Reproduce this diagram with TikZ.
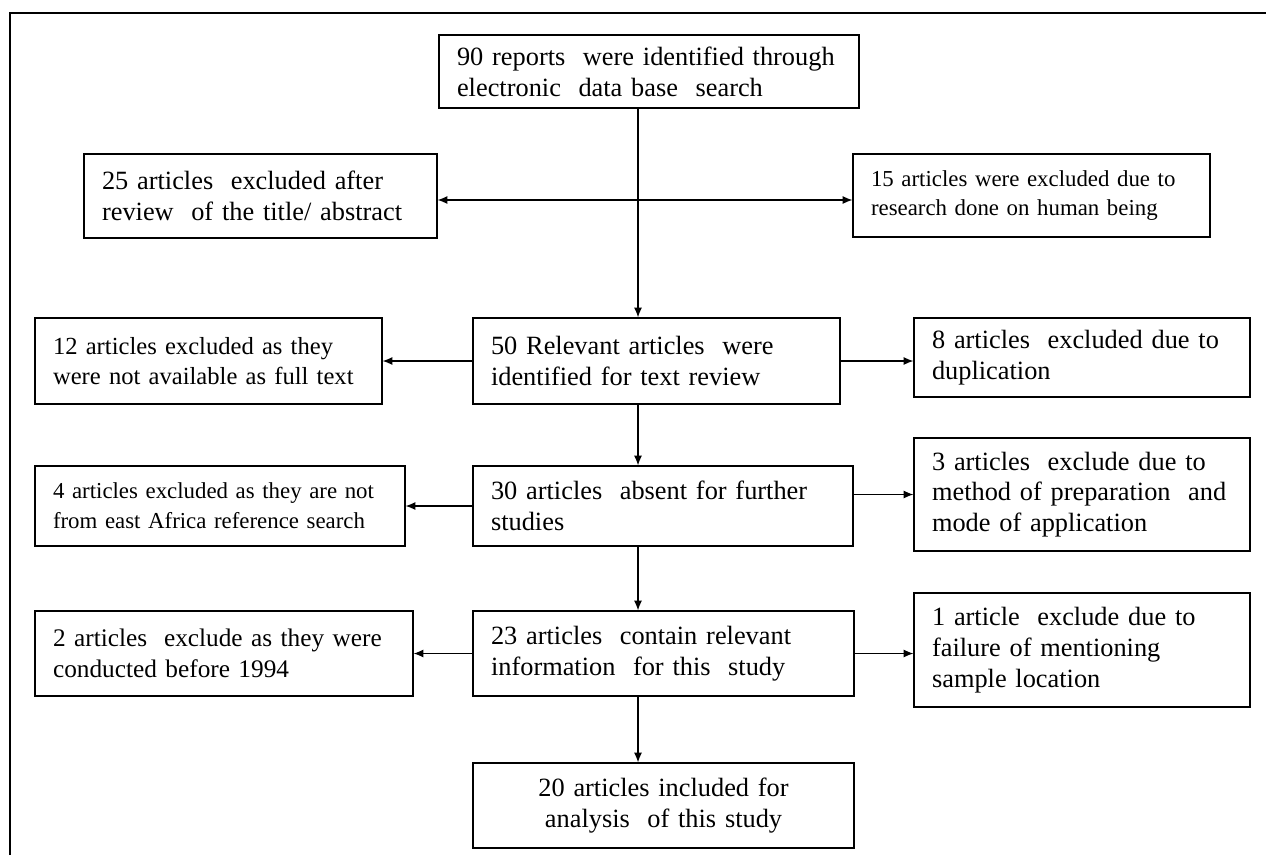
\documentclass[tikz,border=0pt]{standalone}
\usepackage{fontspec}
\setmainfont{Liberation Serif}
\usetikzlibrary{arrows.meta}

\tikzset{
    box/.style={draw, line width=0.8pt, align=left, inner xsep=0.36cm, inner ysep=0pt},
    arr/.style={line width=0.6pt, -{Latex[length=5.5pt,width=4.5pt]}},
    big/.style={font=\fontsize{15}{17.5}\selectfont},
    small/.style={font=\fontsize{13}{17}\selectfont}
}

\begin{document}
\begin{tikzpicture}[x=0.02cm, y=-0.02cm]
    \useasboundingbox (0,0) rectangle (1266,855);
    \draw [line width=1.4pt] (10,855) -- (10,13) -- (1266,13);

    \node[box, big, text width=7.68cm, minimum height=1.46cm] (top) at (649,71.5) {90 reports\ \ were identified through\\electronic\ \ data base\ \ search};
    \node[box, big, text width=6.34cm, minimum height=1.68cm] (ex1) at (260.5,196) {25 articles\ \ excluded after\\review\ \ of the title/ abstract};
    \node[box, small, text width=6.42cm, minimum height=1.66cm] (ex2) at (1031.5,195.5) {15 articles were excluded due to\\research done on human being};
    \node[box, big, text width=6.62cm, minimum height=1.72cm] (rel) at (656.5,361) {50 Relevant articles\ \ were\\identified for text review};
    \node[box, font=\fontsize{14}{17.5}\selectfont, text width=6.22cm, minimum height=1.72cm] (ex3) at (208.5,361) {12 articles excluded as they\\were not available as full text};
    \node[box, big, text width=6.0cm, minimum height=1.58cm] (ex4) at (1082,357.5) {8 articles\ \ excluded due to\\duplication};
    \node[box, big, text width=6.88cm, minimum height=1.6cm] (absent) at (663,506) {30 articles\ \ absent for further\\studies};
    \node[box, small, text width=6.68cm, minimum height=1.6cm] (ex5) at (220,506) {4 articles excluded as they are not\\from east Africa reference search};
    \node[box, big, text width=6.0cm, minimum height=2.26cm] (ex6) at (1082,494.5) {3 articles\ \ exclude due to\\method of preparation\ \ and\\mode of application};
    \node[box, big, text width=6.9cm, minimum height=1.7cm] (info) at (663.5,653.5) {23 articles\ \ contain relevant\\information\ \ for this\ \ study};
    \node[box, font=\fontsize{14.4}{17.5}\selectfont, text width=6.84cm, minimum height=1.7cm] (ex7) at (224,653.5) {2 articles\ \ exclude as they were\\conducted before 1994};
    \node[box, big, text width=6.0cm, minimum height=2.28cm] (ex8) at (1082,650) {1 article\ \ exclude due to\\failure of mentioning\\sample location};
    \node[box, big, align=center, text width=6.9cm, minimum height=1.7cm] (incl) at (663.5,805.5) {20 articles included for\\analysis\ \ of this study};

    \coordinate (spine) at (638,0);
    \coordinate (cross) at (638,200);

    \draw [arr] (top.south -| spine) -- (rel.north -| spine);
    \draw [arr] (cross) -- (cross -| ex1.east);
    \draw [arr] (cross) -- (cross -| ex2.west);
    \draw [arr] (rel.west) -- (ex3.east);
    \draw [arr] (rel.east) -- (rel.east -| ex4.west);
    \draw [arr] (rel.south -| spine) -- (absent.north -| spine);
    \draw [arr] (absent.west) -- (ex5.east);
    \draw [arr] (absent.east |- ex6.west) -- (ex6.west);
    \draw [arr] (absent.south -| spine) -- (info.north -| spine);
    \draw [arr] (info.west) -- (ex7.east);
    \draw [arr] (info.east) -- (info.east -| ex8.west);
    \draw [arr] (info.south -| spine) -- (incl.north -| spine);
\end{tikzpicture}
\end{document}
